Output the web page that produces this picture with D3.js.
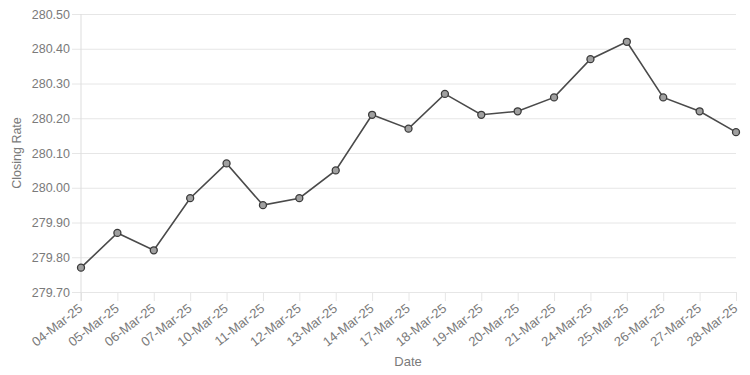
<!DOCTYPE html>
<html>
<head>
<meta charset="utf-8">
<script src="https://cdn.jsdelivr.net/npm/d3@7"></script>
<style>
  body { margin: 0; background: #fff; }
  svg { font-family: "Liberation Sans", Arial, sans-serif; }
</style>
</head>
<body>
<svg id="chart" width="750" height="375"></svg>
<script>
// dati: date e tassi di chiusura
const dates = ['04-Mar-25', '05-Mar-25', '06-Mar-25', '07-Mar-25', '10-Mar-25', '11-Mar-25',
  '12-Mar-25', '13-Mar-25', '14-Mar-25', '17-Mar-25', '18-Mar-25', '19-Mar-25', '20-Mar-25',
  '21-Mar-25', '24-Mar-25', '25-Mar-25', '26-Mar-25', '27-Mar-25', '28-Mar-25']
const rates = [279.77, 279.87, 279.82, 279.97, 280.07, 279.95, 279.97, 280.05, 280.21, 280.17,
  280.27, 280.21, 280.22, 280.26, 280.37, 280.42, 280.26, 280.22, 280.16]
const yTickValues = [279.70, 279.80, 279.90, 280.00, 280.10, 280.20, 280.30, 280.40, 280.50]

const svg = d3.select('#chart')
const textColor = '#7a7a7a'
const gridColor = '#e6e6e6'

const plotLeft = 81, plotRight = 736, plotTop = 14, plotBottom = 292

const xScale = d3.scalePoint()
  .domain(dates)
  .range([plotLeft, plotRight])

const yScale = d3.scaleLinear()
  .domain([279.70, 280.50])
  .range([plotBottom, plotTop])

// griglia e etichette asse y
const yAxis = d3.axisLeft(yScale)
  .tickValues(yTickValues)
  .tickSize(-(plotRight - plotLeft))
  .tickSizeOuter(0)
  .tickPadding(11)
  .tickFormat(d3.format('.2f'))

const yG = svg.append('g')
  .attr('transform', `translate(${plotLeft}, 0)`)
  .call(yAxis)
yG.selectAll('.tick line')
  .attr('x1', -9)
  .style('stroke', gridColor)
yG.selectAll('.tick text')
  .style('fill', textColor)
  .style('font-size', '12.5px')
yG.select('path.domain').remove()

// griglia e etichette asse x
const xAxis = d3.axisBottom(xScale)
  .tickSize(-(plotBottom - plotTop))
  .tickSizeOuter(0)

const xG = svg.append('g')
  .attr('transform', `translate(0, ${plotBottom})`)
  .call(xAxis)
xG.selectAll('.tick line')
  .attr('y2', 9)
  .style('stroke', gridColor)
xG.selectAll('.tick text')
  .style('fill', textColor)
  .style('font-size', '13px')
  .style('text-anchor', 'end')
  .attr('y', 0)
  .attr('dy', 0)
  .attr('transform', 'translate(2, 18) rotate(-38)')
xG.select('path.domain').remove()

// linea verticale sinistra un po' più marcata
svg.append('line')
  .attr('x1', plotLeft).attr('x2', plotLeft)
  .attr('y1', plotTop).attr('y2', plotBottom + 9)
  .style('stroke', '#dddddd')

// titoli assi
svg.append('text')
  .attr('transform', 'rotate(-90)')
  .attr('x', -153)
  .attr('y', 21)
  .style('text-anchor', 'middle')
  .style('font-size', '12.5px')
  .style('fill', textColor)
  .text('Closing Rate')

svg.append('text')
  .attr('x', 408)
  .attr('y', 366)
  .style('text-anchor', 'middle')
  .style('font-size', '13px')
  .style('fill', textColor)
  .text('Date')

// linea dei dati
const line = d3.line()
  .x((d, i) => xScale(dates[i]))
  .y(d => yScale(d))

svg.append('path')
  .datum(rates)
  .attr('d', line)
  .style('fill', 'none')
  .style('stroke', '#4a4a4a')
  .style('stroke-width', 1.6)

svg.append('g')
  .selectAll('circle')
  .data(rates)
  .enter()
  .append('circle')
  .attr('cx', (d, i) => xScale(dates[i]))
  .attr('cy', d => yScale(d))
  .attr('r', 3.5)
  .style('fill', '#a0a0a0')
  .style('stroke', '#3a3a3a')
  .style('stroke-width', 1.3)
</script>
</body>
</html>
